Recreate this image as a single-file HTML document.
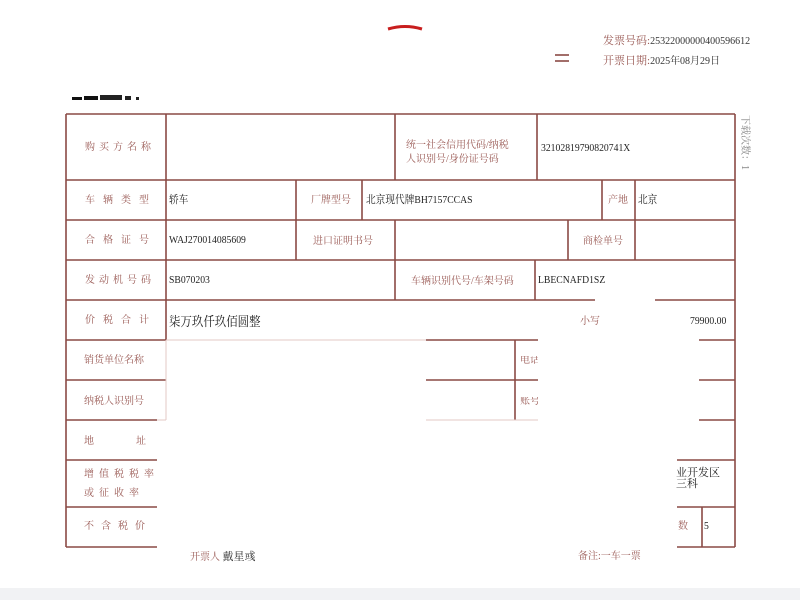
<!DOCTYPE html>
<html><head><meta charset="utf-8"><style>
body{margin:0;width:800px;height:600px;background:#fff;position:relative;overflow:hidden;font-family:"Liberation Serif","Noto Serif CJK SC",serif;}
.t{position:absolute;white-space:nowrap;line-height:1;}
.l{color:#9a5a55;font-size:10px;letter-spacing:0;}
.v{color:#222;font-size:11px;transform:scaleX(0.88);transform-origin:left center;}
</style></head><body>
<svg width="800" height="600" style="position:absolute;left:0;top:0">
<rect x="0" y="588" width="800" height="12" fill="#f1f2f4"/>
<path d="M388 29 Q405 24 422 29" stroke="#c81e1e" stroke-width="3" fill="none"/>
<rect x="72" y="97" width="10" height="3" fill="#111"/><rect x="84" y="96" width="14" height="4" fill="#111"/><rect x="100" y="95" width="22" height="5" fill="#222"/><rect x="125" y="96" width="6" height="4" fill="#222"/><rect x="136" y="97" width="3" height="3" fill="#222"/>
<g stroke="#8a4a45" stroke-width="1.6" fill="none">
<line x1="555" y1="55" x2="569" y2="55"/><line x1="555" y1="61" x2="569" y2="61"/>
<line x1="66" y1="114" x2="735" y2="114"/>
<line x1="735" y1="114" x2="735" y2="547"/>
<line x1="66" y1="114" x2="66" y2="547"/>
<line x1="66" y1="180" x2="735" y2="180"/>
<line x1="66" y1="220" x2="735" y2="220"/>
<line x1="66" y1="260" x2="735" y2="260"/>
<line x1="66" y1="300" x2="595" y2="300"/><line x1="655" y1="300" x2="735" y2="300"/>
<line x1="66" y1="340" x2="166" y2="340"/><line x1="426" y1="340" x2="538" y2="340"/><line x1="699" y1="340" x2="735" y2="340"/>
<line x1="66" y1="380" x2="166" y2="380"/><line x1="426" y1="380" x2="538" y2="380"/><line x1="699" y1="380" x2="735" y2="380"/>
<line x1="66" y1="420" x2="157" y2="420"/><line x1="699" y1="420" x2="735" y2="420"/>
<line x1="66" y1="460" x2="157" y2="460"/><line x1="677" y1="460" x2="735" y2="460"/>
<line x1="66" y1="507" x2="157" y2="507"/><line x1="677" y1="507" x2="735" y2="507"/>
<line x1="66" y1="547" x2="157" y2="547"/><line x1="677" y1="547" x2="735" y2="547"/>
<line x1="166" y1="114" x2="166" y2="340"/>
<line x1="395" y1="114" x2="395" y2="180"/>
<line x1="537" y1="114" x2="537" y2="180"/>
<line x1="296" y1="180" x2="296" y2="260"/>
<line x1="362" y1="180" x2="362" y2="220"/>
<line x1="602" y1="180" x2="602" y2="220"/>
<line x1="635" y1="180" x2="635" y2="260"/>
<line x1="395" y1="220" x2="395" y2="300"/>
<line x1="568" y1="220" x2="568" y2="260"/>
<line x1="535" y1="260" x2="535" y2="300"/>
<line x1="515" y1="340" x2="515" y2="420"/>
<line x1="702" y1="507" x2="702" y2="547"/>
</g>
<g stroke="#e3c8c6" stroke-width="1" fill="none">
<line x1="166" y1="340" x2="426" y2="340"/>
<line x1="166" y1="340" x2="166" y2="420"/>
<line x1="157" y1="420" x2="166" y2="420"/>
<line x1="426" y1="420" x2="538" y2="420"/>
</g>
</svg>
<div class="t l" style="left:603px;top:36px;font-size:11px">发票号码:<span style="color:#333;font-size:10px">25322000000400596612</span></div>
<div class="t l" style="left:603px;top:56px;font-size:11px">开票日期:<span style="color:#333;font-size:10px">2025年08月29日</span></div>
<div class="t l" style="left:739px;top:115px;font-size:10px;color:#888;writing-mode:vertical-rl;text-orientation:sideways">下载次数：1</div>

<div class="t l" style="left:85px;top:143px;letter-spacing:4px">购买方名称</div>
<div class="t l" style="left:406px;top:139px;line-height:14px">统一社会信用代码/纳税<br>人识别号/身份证号码</div>
<div class="t v" style="left:541px;top:143px">32102819790820741X</div>

<div class="t l" style="left:85px;top:196px;letter-spacing:8px">车辆类型</div>
<div class="t v" style="left:169px;top:195px">轿车</div>
<div class="t l" style="left:311px;top:196px">厂牌型号</div>
<div class="t v" style="left:366px;top:195px">北京现代牌BH7157CCAS</div>
<div class="t l" style="left:608px;top:196px">产地</div>
<div class="t v" style="left:638px;top:195px">北京</div>

<div class="t l" style="left:85px;top:236px;letter-spacing:8px">合格证号</div>
<div class="t v" style="left:169px;top:235px">WAJ270014085609</div>
<div class="t l" style="left:313px;top:237px">进口证明书号</div>
<div class="t l" style="left:583px;top:237px">商检单号</div>

<div class="t l" style="left:85px;top:276px;letter-spacing:4px">发动机号码</div>
<div class="t v" style="left:169px;top:275px">SB070203</div>
<div class="t l" style="left:411px;top:277px">车辆识别代号/车架号码</div>
<div class="t v" style="left:538px;top:275px">LBECNAFD1SZ</div>

<div class="t l" style="left:85px;top:316px;letter-spacing:8px">价税合计</div>
<div class="t v" style="left:169px;top:315px;font-size:13px">柒万玖仟玖佰圆整</div>
<div class="t l" style="left:580px;top:317px">小写</div>
<div class="t v" style="left:690px;top:316px">79900.00</div>

<div class="t l" style="left:84px;top:356px">销货单位名称</div>
<div class="t l" style="left:520px;top:356px;width:18px;overflow:hidden">电话</div>
<div class="t l" style="left:84px;top:397px">纳税人识别号</div>
<div class="t l" style="left:520px;top:397px;width:18px;overflow:hidden">账号</div>
<div class="t l" style="left:84px;top:437px">地</div>
<div class="t l" style="left:136px;top:437px">址</div>
<div class="t l" style="left:84px;top:470px;letter-spacing:5px">增值税税率</div>
<div class="t l" style="left:84px;top:489px;letter-spacing:5px">或征收率</div>
<div class="t l" style="left:84px;top:522px;letter-spacing:7px">不含税价</div>
<div class="t v" style="left:676px;top:468px;line-height:11px;transform:none">业开发区<br>三科</div>
<div class="t l" style="left:678px;top:522px">数</div>
<div class="t v" style="left:704px;top:521px">5</div>

<div class="t l" style="left:190px;top:552px">开票人 <span style="color:#333;font-size:11px">戴星彧</span></div>
<div class="t l" style="left:578px;top:552px">备注:一车一票</div>
</body></html>
